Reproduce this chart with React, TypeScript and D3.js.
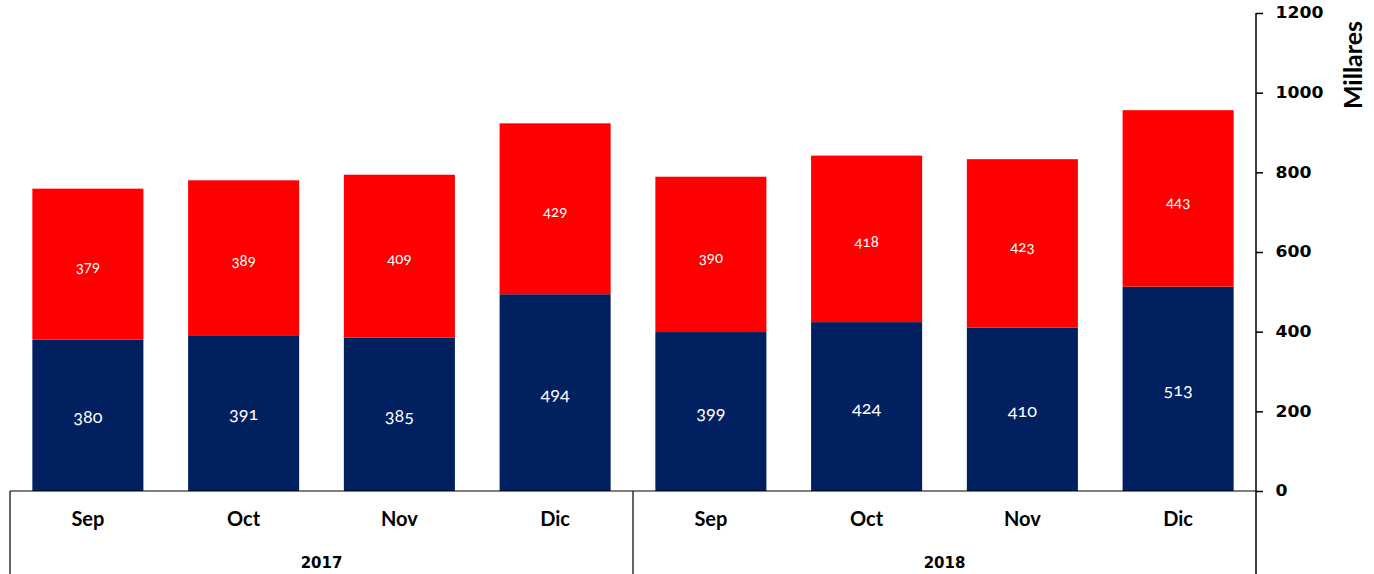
import { useEffect, useRef } from "react";
import * as d3 from "d3";

const months = ["Sep", "Oct", "Nov", "Dic", "Sep", "Oct", "Nov", "Dic"];
const years = ["2017", "2018"];
const blueValues = [380, 391, 385, 494, 399, 424, 410, 513];
const redValues = [379, 389, 409, 429, 390, 418, 423, 443];
const yTicks = [0, 200, 400, 600, 800, 1000, 1200];

export default function App() {
  const svgRef = useRef<SVGSVGElement | null>(null);

  useEffect(() => {
    if (!svgRef.current) return;
    const svg = d3.select(svgRef.current);
    svg.selectAll("*").remove();

    const left = 10;
    const right = 1256;
    const top = 13;
    const bottom = 491;
    const fullH = 574;

    const keys = months.map((_, i) => String(i));
    const x = d3.scaleBand().domain(keys).range([left, right]).paddingInner(0.287).paddingOuter(0.1435);
    const y = d3.scaleLinear().domain([0, 1200]).range([bottom, top]);

    const rows = months.map((m, i) => ({ key: String(i), blue: blueValues[i], red: redValues[i] }));
    const stack = d3.stack<any>().keys(["blue", "red"]);
    const series = stack(rows);
    const colors: Record<string, string> = { blue: "#002060", red: "#FF0000" };

    const g = svg.append("g");
    series.forEach((s) => {
      g.selectAll(null)
        .data(s)
        .enter()
        .append("rect")
        .attr("x", (d: any) => x(d.data.key)!)
        .attr("width", x.bandwidth())
        .attr("y", (d) => y(d[1]))
        .attr("height", (d) => y(d[0]) - y(d[1]))
        .attr("fill", colors[s.key]);

      g.selectAll(null)
        .data(s)
        .enter()
        .append("text")
        .attr("x", (d: any) => x(d.data.key)! + x.bandwidth() / 2)
        .attr("y", (d) => (y(d[0]) + y(d[1])) / 2 + (s.key === "red" ? 3 : 1))
        .attr("dy", "0.35em")
        .attr("text-anchor", "middle")
        .attr("fill", "#fff")
        .style("font-family", "Lato, 'Open Sans', sans-serif")
        .style("font-feature-settings", "'onum' 1")
        .style("font-size", s.key === "blue" ? "18px" : "15px")
        .text((d) => String(d[1] - d[0]));
    });

    // right value axis (wide bold digits)
    const yAxis = d3.axisRight(y).tickValues(yTicks).tickFormat(d3.format("d")).tickSize(7).tickPadding(7).tickSizeOuter(0);
    const ya = svg.append("g").attr("transform", `translate(${right},0)`).call(yAxis);
    ya.select(".domain").remove();
    ya.selectAll("line").attr("stroke", "#000").attr("stroke-width", 1.5);
    ya.selectAll("text")
      .attr("fill", "#000")
      .attr("x", 17)
      .attr("transform", "scale(1.15,1)")
      .style("font-family", "'DejaVu Sans', Verdana, sans-serif")
      .style("font-weight", "bold")
      .style("font-size", "15px");
    svg.append("line")
      .attr("x1", right).attr("x2", right)
      .attr("y1", top).attr("y2", fullH)
      .attr("stroke", "#000").attr("stroke-width", 1.5);

    svg.append("text")
      .attr("transform", `translate(1362,${65}) rotate(-90)`)
      .attr("text-anchor", "middle")
      .attr("fill", "#000")
      .style("font-family", "Lato, 'Open Sans', sans-serif")
      .style("font-weight", "bold")
      .style("font-size", "25px")
      .text("Millares");

    // category axis
    svg.append("line")
      .attr("x1", left).attr("x2", right)
      .attr("y1", bottom).attr("y2", bottom)
      .attr("stroke", "#000").attr("stroke-width", 1.2);

    const step = x.step();
    const groupX = (gi: number) => left + gi * 4 * step;
    [0, 1].forEach((gi) => {
      svg.append("line")
        .attr("x1", groupX(gi)).attr("x2", groupX(gi))
        .attr("y1", bottom).attr("y2", fullH)
        .attr("stroke", "#000").attr("stroke-width", 1.2);
    });

    svg.selectAll(null)
      .data(months)
      .enter()
      .append("text")
      .attr("x", (_, i) => x(String(i))! + x.bandwidth() / 2)
      .attr("y", 519)
      .attr("dy", "0.35em")
      .attr("text-anchor", "middle")
      .attr("fill", "#000")
      .style("font-family", "Lato, 'Open Sans', sans-serif")
      .style("font-weight", "bold")
      .style("font-size", "20px")
      .text((d) => d);

    svg.selectAll(null)
      .data(years)
      .enter()
      .append("text")
      .attr("x", (_, i) => groupX(i) + 2 * step)
      .attr("y", 563)
      .attr("dy", "0.35em")
      .attr("text-anchor", "middle")
      .attr("fill", "#000")
      .style("font-family", "'DejaVu Sans', Verdana, sans-serif")
      .style("font-weight", "bold")
      .style("font-size", "15px")
      .text((d) => d);
  }, []);

  return (
    <div style={{ position: "absolute", left: 0, top: 0 }}>
      <svg ref={svgRef} width={1374} height={574} style={{ display: "block", background: "#fff" }}></svg>
    </div>
  );
}
